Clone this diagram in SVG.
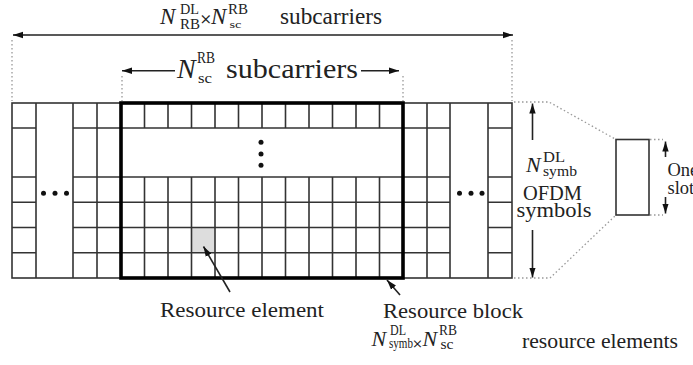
<svg xmlns="http://www.w3.org/2000/svg" width="693" height="365" viewBox="0 0 693 365">
<style>
.g{stroke:#333;stroke-width:1.6;fill:none}
.rb{stroke:#000;stroke-width:3.6;fill:none}
.dot{stroke:#999;stroke-width:1.3;stroke-dasharray:1.5 2.5;fill:none}
.ar{stroke:#222;stroke-width:1.6;fill:none}
.t{font-family:"Liberation Serif","Times New Roman",serif;fill:#222}
.x{font-family:"DejaVu Serif","DejaVu Sans",serif;fill:#222}
.i{font-style:italic}
.d{fill:#111}
</style>
<defs>
<marker id="ah" markerUnits="userSpaceOnUse" markerWidth="10" markerHeight="8" refX="10" refY="4" orient="auto">
<path d="M0,0.8 L10,4 L0,7.2 z" fill="#111"/>
</marker>
</defs>
<rect width="693" height="365" fill="#fff"/>

<g id="grid">
<rect x="191.5" y="227.5" width="23.5" height="25" fill="#ddd"/>
<rect class="g" x="12" y="103" width="500" height="175"/>
<path class="g" d="M36,103V278M73,103V278M97,103V278M427,103V278M450,103V278M488,103V278"/>
<path class="g" d="M144.5,103V128M168,103V128M191.5,103V128M215,103V128M238.5,103V128M262,103V128M285.5,103V128M309,103V128M332.5,103V128M356,103V128M379.5,103V128"/>
<path class="g" d="M144.5,177V278M168,177V278M191.5,177V278M215,177V278M238.5,177V278M262,177V278M285.5,177V278M309,177V278M332.5,177V278M356,177V278M379.5,177V278"/>
<path class="g" d="M12,128H36M73,128H450M488,128H512M12,177H36M73,177H450M488,177H512M12,202.3H36M73,202.3H450M488,202.3H512M12,227.5H36M73,227.5H450M488,227.5H512M12,252.7H36M73,252.7H450M488,252.7H512"/>
<circle class="d" cx="43.5" cy="193.3" r="2.5"/><circle class="d" cx="55" cy="193.3" r="2.5"/><circle class="d" cx="66.5" cy="193.3" r="2.5"/>
<circle class="d" cx="459.5" cy="193.3" r="2.5"/><circle class="d" cx="471" cy="193.3" r="2.5"/><circle class="d" cx="482" cy="193.3" r="2.5"/>
<circle class="d" cx="261" cy="142.3" r="2.5"/><circle class="d" cx="261" cy="154" r="2.5"/><circle class="d" cx="261" cy="165.3" r="2.5"/>
</g>

<g id="resource-block">
<rect class="rb" x="121" y="103" width="282" height="175"/>
</g>

<g id="slot">
<rect class="g" x="616" y="139.5" width="33" height="75.5"/>
</g>

<g id="connectors">
<path class="dot" d="M12,40V101M512,40V101M122,76V101M403,76V101"/>
<path class="dot" d="M514,102H549L616,139.5M514,278H550L616,215M650,139.5H663M650,215H663"/>
<line class="ar" x1="30" y1="35" x2="13" y2="35" marker-end="url(#ah)"/>
<line class="ar" x1="30" y1="35" x2="513" y2="35" marker-end="url(#ah)"/>
<line class="ar" x1="175" y1="70.7" x2="122" y2="70.7" marker-end="url(#ah)"/>
<line class="ar" x1="361" y1="70.7" x2="399" y2="70.7" marker-end="url(#ah)"/>
<line class="ar" x1="532.5" y1="140" x2="532.5" y2="103.5" marker-end="url(#ah)"/>
<line class="ar" x1="532.5" y1="230" x2="532.5" y2="277.5" marker-end="url(#ah)"/>
<line class="ar" x1="665.5" y1="157" x2="665.5" y2="141.5" marker-end="url(#ah)"/>
<line class="ar" x1="665.5" y1="197" x2="665.5" y2="213.5" marker-end="url(#ah)"/>
<line class="ar" x1="230" y1="292" x2="203.5" y2="246.5" marker-end="url(#ah)"/>
<line class="ar" x1="400" y1="295" x2="387" y2="280" marker-end="url(#ah)"/>
</g>

<g id="label-total">
<text class="t i" x="160" y="24" font-size="23">N</text>
<text class="t" x="180" y="14" font-size="15" textLength="19" lengthAdjust="spacingAndGlyphs">DL</text>
<text class="t" x="180" y="28.5" font-size="15" textLength="20" lengthAdjust="spacingAndGlyphs">RB</text>
<text class="x" x="199.5" y="23.5" font-size="15">×</text>
<text class="t i" x="211" y="24" font-size="23">N</text>
<text class="t" x="228" y="14" font-size="15" textLength="20" lengthAdjust="spacingAndGlyphs">RB</text>
<text class="t" x="229.5" y="28" font-size="11" textLength="12" lengthAdjust="spacingAndGlyphs">sc</text>
<text class="t" x="280" y="24" font-size="23" textLength="102" lengthAdjust="spacingAndGlyphs">subcarriers</text>
</g>

<g id="label-rb">
<text class="t i" x="177" y="78" font-size="28">N</text>
<text class="t" x="197" y="63.3" font-size="17" textLength="18" lengthAdjust="spacingAndGlyphs">RB</text>
<text class="t" x="198" y="83" font-size="15" textLength="14" lengthAdjust="spacingAndGlyphs">sc</text>
<text class="t" x="226" y="78" font-size="28" textLength="132" lengthAdjust="spacingAndGlyphs">subcarriers</text>
</g>

<g id="label-symbols">
<text class="t i" x="526" y="172" font-size="22">N</text>
<text class="t" x="543" y="162" font-size="15" textLength="22" lengthAdjust="spacingAndGlyphs">DL</text>
<text class="t" x="543" y="176" font-size="15" textLength="34" lengthAdjust="spacingAndGlyphs">symb</text>
<text class="t" x="523" y="199.5" font-size="21" textLength="59" lengthAdjust="spacingAndGlyphs">OFDM</text>
<text class="t" x="516.5" y="216.5" font-size="22" textLength="75" lengthAdjust="spacingAndGlyphs">symbols</text>
</g>

<g id="label-slot">
<text class="t" x="667.5" y="176" font-size="18.5">One</text>
<text class="t" x="667.5" y="194" font-size="18.5">slot</text>
</g>

<g id="label-re">
<text class="t" x="160" y="317" font-size="21" textLength="164" lengthAdjust="spacingAndGlyphs">Resource element</text>
</g>

<g id="label-block">
<text class="t" x="383" y="318" font-size="21" textLength="140" lengthAdjust="spacingAndGlyphs">Resource block</text>
<text class="t i" x="371.5" y="346" font-size="22">N</text>
<text class="t" x="390" y="335" font-size="14" textLength="16" lengthAdjust="spacingAndGlyphs">DL</text>
<text class="t" x="389" y="348" font-size="14" textLength="24" lengthAdjust="spacingAndGlyphs">symb</text>
<text class="x" x="412" y="347.5" font-size="13">×</text>
<text class="t i" x="422.5" y="346" font-size="22">N</text>
<text class="t" x="439" y="335" font-size="14" textLength="18" lengthAdjust="spacingAndGlyphs">RB</text>
<text class="t" x="440.5" y="348.5" font-size="14" textLength="13" lengthAdjust="spacingAndGlyphs">sc</text>
<text class="t" x="522" y="348" font-size="21" textLength="156" lengthAdjust="spacingAndGlyphs">resource elements</text>
</g>
</svg>
